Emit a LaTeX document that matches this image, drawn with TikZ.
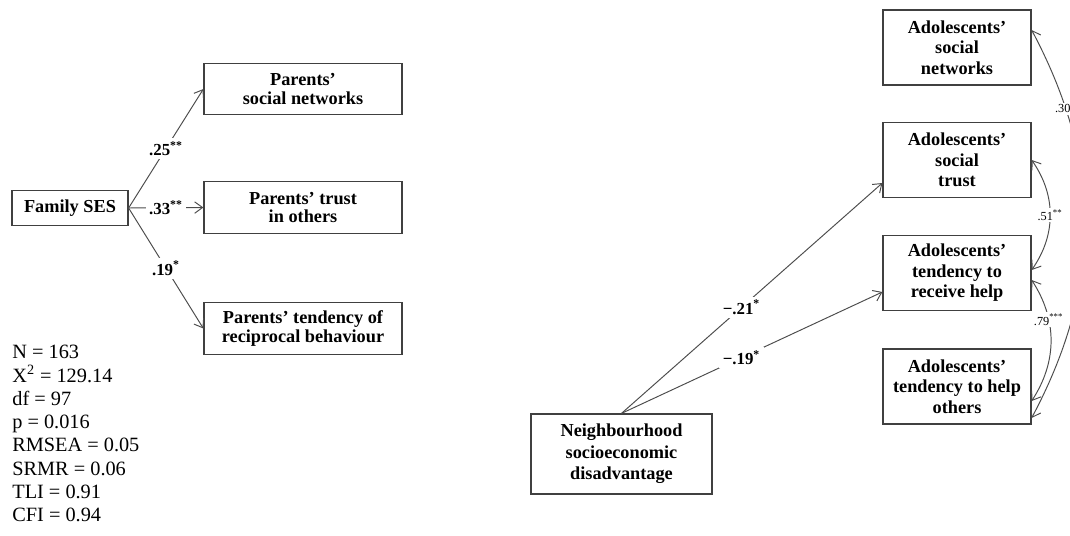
\documentclass[tikz,border=0pt]{standalone}
\usepackage{fontspec}
\setmainfont{Liberation Serif}
\usetikzlibrary{positioning,arrows,arrows.meta}
\tikzset{
  bx/.style={rectangle, draw=black!75, line width=0.7pt, text centered, align=center, font=\bfseries\fontsize{10.4}{10.5}\selectfont},
  pb/.style={bx, minimum width=3.96cm, minimum height=1.03cm},
  ab/.style={bx, minimum width=2.96cm, minimum height=1.5cm, font=\bfseries\fontsize{10.4}{11.7}\selectfont},
  pth/.style={-{Straight Barb[length=4.5pt,width=6.5pt]}, draw=black!70, line width=0.55pt},
  cor/.style={{Straight Barb[length=4.5pt,width=6.5pt]}-{Straight Barb[length=4.5pt,width=6.5pt]}, draw=black!70, line width=0.55pt},
  lb/.style={fill=white, inner sep=2pt, font=\bfseries\fontsize{9.6}{10}\selectfont},
  cl/.style={fill=white, inner sep=1pt, font=\fontsize{7}{7.5}\selectfont}
}
\begin{document}
\begin{tikzpicture}
	\useasboundingbox (0cm,0cm) rectangle (21.4cm,-10.72cm);
	\clip (0cm,0cm) rectangle (21.4cm,-10.72cm);
	\node[bx,minimum width=2.32cm, minimum height=0.7cm] (fses) at (1.40cm,-4.16cm) {Family SES};
	\node[pb] (pnet) at (6.06cm,-1.78cm) {Parents’\\social networks};
	\node[pb] (ptrust) at (6.06cm,-4.15cm) {Parents’ trust\\in others};
	\node[pb] (precip) at (6.06cm,-6.57cm) {Parents’ tendency of\\reciprocal behaviour};
	\node[anchor=north west, inner sep=0pt, align=left, font=\fontsize{11.55}{13.26}\selectfont] (fit) at (0.24cm,-6.90cm) {N = 163\\X\textsuperscript{2} = 129.14\\df = 97\\p = 0.016\\RMSEA = 0.05\\SRMR = 0.06\\TLI = 0.91\\CFI = 0.94};
	\node[ab] (anet) at (19.14cm,-0.95cm) {Adolescents’\\social\\networks};
	\node[ab] (atrust) at (19.14cm,-3.20cm) {Adolescents’\\social\\trust};
	\node[ab] (arecv) at (19.14cm,-5.46cm) {Adolescents’\\tendency to\\receive help};
	\node[ab] (ahelp) at (19.14cm,-7.73cm) {Adolescents’\\tendency to help\\others};
	\node[bx,minimum width=3.62cm, minimum height=1.6cm, font=\bfseries\fontsize{10.4}{12.3}\selectfont] (nbh) at (12.43cm,-9.08cm) {Neighbourhood\\socioeconomic\\disadvantage};
	\draw[pth] (fses.east) -- node[lb] {.25\textsuperscript{**}} (pnet.west);
	\draw[pth] (fses.east) -- node[lb] {.33\textsuperscript{**}} (ptrust.west);
	\draw[pth] (fses.east) -- node[lb] {.19\textsuperscript{*}} (precip.west);
	\draw[pth] (nbh.north) -- node[lb,pos=0.46] {−.21\textsuperscript{*}} ([yshift=-0.46cm]atrust.west);
	\draw[pth] (nbh.north) -- node[lb,pos=0.46] {−.19\textsuperscript{*}} ([yshift=-0.38cm]arecv.west);
	\draw[cor] (atrust.east) to[bend left=35] node[cl] {.51\textsuperscript{**}} ([yshift=0.06cm]arecv.east);
	\draw[cor] ([yshift=-0.14cm]arecv.east) to[bend left=33] node[cl,pos=0.33] {.79\textsuperscript{***}} ([yshift=-0.29cm]ahelp.east);
	\draw[cor] ([yshift=0.35cm]anet.east) to[bend left=28] node[cl,pos=0.2,xshift=-0.06cm] {.30} ([yshift=-0.63cm]ahelp.east);
\end{tikzpicture}
\end{document}
